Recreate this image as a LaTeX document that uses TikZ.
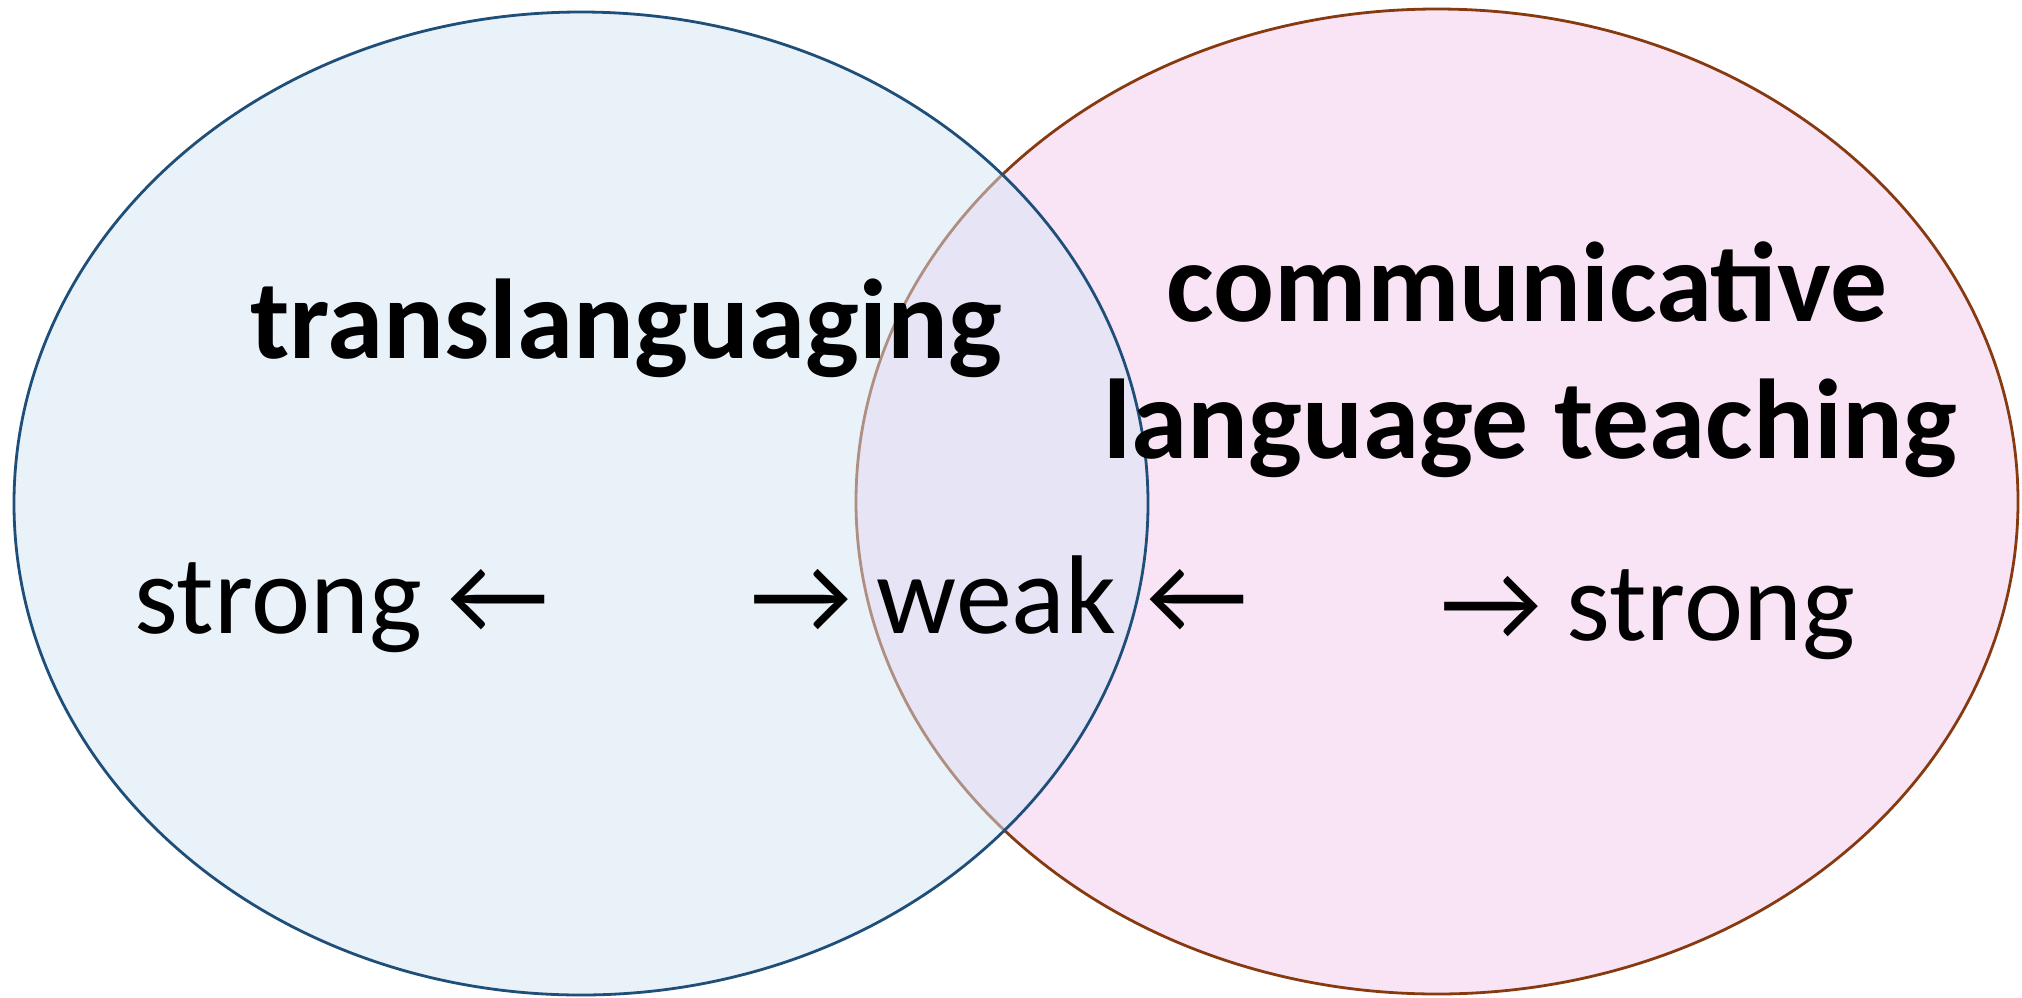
\documentclass[tikz,border=0pt]{standalone}
\usepackage{fontspec}
\setmainfont{Carlito}
\definecolor{leftfill}{RGB}{213,229,245}
\definecolor{leftline}{RGB}{31,78,121}
\definecolor{rightfill}{RGB}{249,228,246}
\definecolor{rightline}{RGB}{135,58,15}
\tikzset{
  venn/.style={line width=2.8pt},
  titletext/.style={inner sep=0pt, anchor=base, font=\fontsize{113.5}{132}\selectfont\bfseries},
  plaintext/.style={inner sep=0pt, anchor=base west, font=\fontsize{112}{130}\selectfont},
}
\begin{document}
\begin{tikzpicture}[x=1pt,y=-1pt]
\useasboundingbox (0,0) rectangle (2022,997);
\fill[white] (0,0) rectangle (2022,997);
\draw[venn, draw=rightline, fill=rightfill] (1437,501.5) ellipse [x radius=581, y radius=492.5];
\draw[venn, draw=leftline, fill=leftfill, fill opacity=0.5] (581,503.5) ellipse [x radius=567, y radius=491.5];
\node[titletext] (trans) at (626,358) {translanguaging};
\node[titletext] (comm) at (1527,321) {communicative};
\node[titletext] (lang) at (1530,458) {language teaching};
\node[plaintext] (s1) at (134,633) {strong ←};
\node[plaintext] (w) at (750,633) {→ weak\kern30pt←};
\node[plaintext] (s2) at (1440,640) {→ strong};
\end{tikzpicture}
\end{document}
